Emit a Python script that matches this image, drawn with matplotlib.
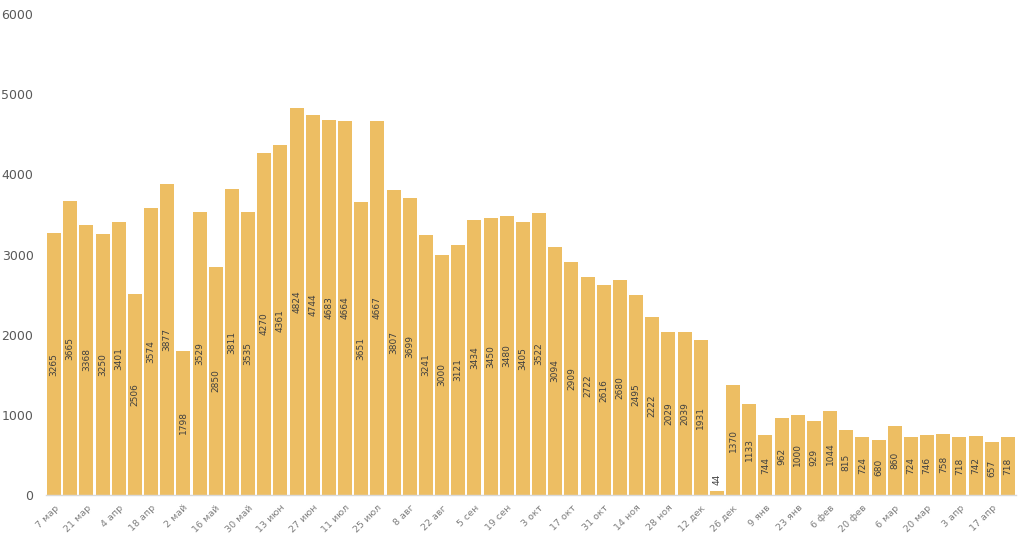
import matplotlib
matplotlib.use("Agg")
import matplotlib.pyplot as plt

values = [3265, 3665, 3368, 3250, 3401, 2506, 3574, 3877, 1798, 3529,
          2850, 3811, 3535, 4270, 4361, 4824, 4744, 4683, 4664, 3651,
          4667, 3807, 3699, 3241, 3000, 3121, 3434, 3450, 3480, 3405,
          3522, 3094, 2909, 2722, 2616, 2680, 2495, 2222, 2029, 2039,
          1931, 44, 1370, 1133, 744, 962, 1000, 929, 1044, 815,
          724, 680, 860, 724, 746, 758, 718, 742, 657, 718]

tick_labels = ["7 мар", "21 мар", "4 апр", "18 апр", "2 май", "16 май", "30 май",
               "13 июн", "27 июн", "11 июл", "25 июл", "8 авг", "22 авг", "5 сен",
               "19 сен", "3 окт", "17 окт", "31 окт", "14 ноя", "28 ноя", "12 дек",
               "26 дек", "9 янв", "23 янв", "6 фев", "20 фев", "6 мар", "20 мар",
               "3 апр", "17 апр"]

y_ticks = [0, 1000, 2000, 3000, 4000, 5000, 6000]

plt.rcParams['font.family'] = ['DejaVu Sans']
fig = plt.figure(figsize=(10.24, 5.39), dpi=100)
ax = fig.add_axes([46/1024, 44/539, 970/1024, 481/539])

x = list(range(len(values)))
bar_color = "#EDBE63"
ax.bar(x, values, width=0.86, color=bar_color, edgecolor="none")

for xi, v in zip(x, values):
    if v < 300:
        ax.text(xi, v + 80, str(v), rotation=90, ha="center", va="bottom",
                fontsize=6.5, color="#404040")
    else:
        ax.text(xi, v / 2, str(v), rotation=90, ha="center", va="center",
                fontsize=6.5, color="#404040")

ax.set_xlim(-0.5, len(values) - 0.5)
ax.set_ylim(0, 6000)
ax.set_yticks(y_ticks)
ax.set_yticklabels([str(t) for t in y_ticks], fontsize=9, color="#595959")
ax.tick_params(axis="y", length=0, pad=9)

ax.set_xticks(x[::2])
ax.set_xticklabels(tick_labels, rotation=45, ha="right", rotation_mode="anchor",
                   fontsize=6.8, color="#7F7F7F")
ax.tick_params(axis="x", length=0, pad=6)

for s in ["top", "right", "left"]:
    ax.spines[s].set_visible(False)
ax.spines["bottom"].set_color("#D9D9D9")
ax.spines["bottom"].set_linewidth(1)

fig.savefig("out.png", dpi=100, facecolor="white")
